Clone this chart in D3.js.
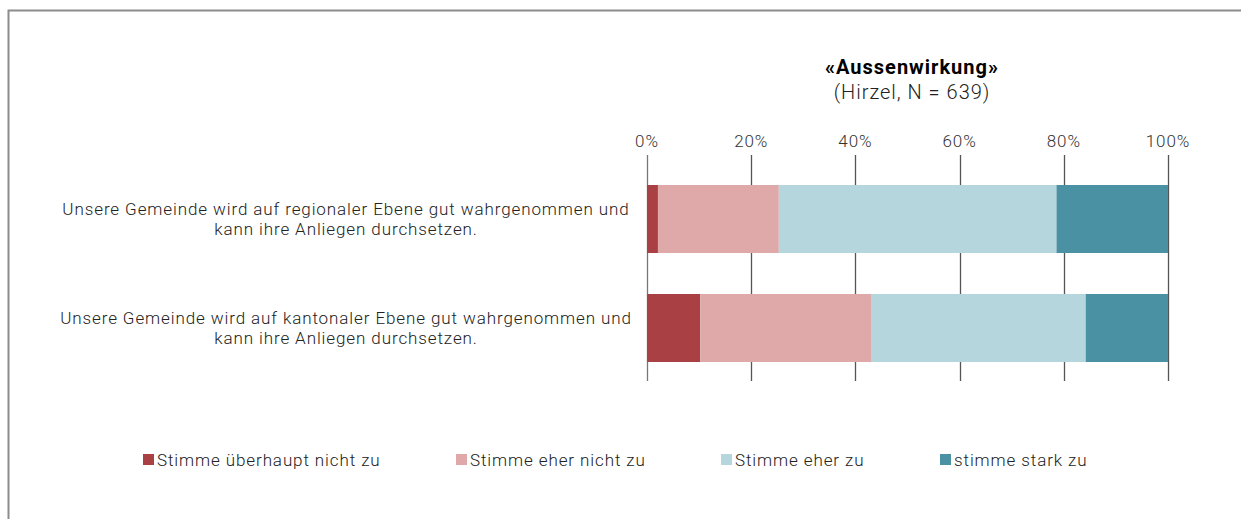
<!DOCTYPE html>
<html>
<head>
<meta charset="utf-8">
<script src="https://cdn.jsdelivr.net/npm/d3@7"></script>
<style>
  body { margin: 0; background: #fff; }
  svg { font-family: Roboto, "Open Sans", sans-serif; }
</style>
</head>
<body>
<div id="chart"></div>
<script>
// categories (two lines each) and shares in percent
let categories = [
    ["Unsere Gemeinde wird auf regionaler Ebene gut wahrgenommen und", "kann ihre Anliegen durchsetzen."],
    ["Unsere Gemeinde wird auf kantonaler Ebene gut wahrgenommen und", "kann ihre Anliegen durchsetzen."]
];
let seriesNames = ["Stimme überhaupt nicht zu", "Stimme eher nicht zu", "Stimme eher zu", "stimme stark zu"];
let seriesColors = ["#a94043", "#dfa9aa", "#b5d6dd", "#4a91a3"];
let values = [
    [2.1, 23.2, 53.3, 21.4],
    [10.2, 32.8, 41.2, 15.8]
];
let tickValues = [0, 20, 40, 60, 80, 100];

let width = 1241, height = 519;

let svg = d3.select("#chart")
    .append("svg")
    .attr("width", width)
    .attr("height", height);

// frame
svg.append("rect")
    .attr("x", 8.5).attr("y", 10.5)
    .attr("width", width + 10).attr("height", height + 10)
    .attr("fill", "none")
    .attr("stroke", "#8c8c8c")
    .attr("stroke-width", 2);

// title
svg.append("text")
    .attr("x", 912).attr("y", 74)
    .attr("text-anchor", "middle")
    .style("font-size", "20px").style("font-weight", "bold")
    .style("letter-spacing", "1px")
    .attr("fill", "#000")
    .text("«Aussenwirkung»");
svg.append("text")
    .attr("x", 912).attr("y", 99)
    .attr("text-anchor", "middle")
    .style("font-size", "20px").style("font-weight", 300)
    .style("letter-spacing", "1px")
    .attr("fill", "#222")
    .text("(Hirzel, N = 639)");

let x = d3.scaleLinear().domain([0, 100]).range([647, 1168]);
let y = d3.scaleBand()
    .domain(d3.range(categories.length))
    .range([185, 362])
    .paddingInner(0.376)
    .paddingOuter(0);

// grid lines
svg.append("g")
    .selectAll("line")
    .data(tickValues)
    .enter()
    .append("line")
    .attr("x1", d => Math.round(x(d)) + 0.5)
    .attr("x2", d => Math.round(x(d)) + 0.5)
    .attr("y1", 155).attr("y2", 381)
    .attr("stroke", d => d == 0 ? "#777" : "#555")
    .attr("stroke-width", 1.3);

// tick labels
svg.append("g")
    .selectAll("text")
    .data(tickValues)
    .enter()
    .append("text")
    .attr("x", d => x(d))
    .attr("y", 147)
    .attr("text-anchor", "middle")
    .style("font-size", "17px").style("font-weight", 300)
    .style("letter-spacing", "0.9px")
    .attr("fill", "#333")
    .text(d => d + "%");

// stacked bars
let stacked = values.map(function (row, i) {
    let acc = 0;
    return row.map(function (v, j) {
        let seg = { row: i, series: j, x0: acc, x1: acc + v };
        acc += v;
        return seg;
    });
});

svg.append("g")
    .selectAll("g")
    .data(stacked)
    .enter()
    .append("g")
    .selectAll("rect")
    .data(d => d)
    .enter()
    .append("rect")
    .attr("x", d => x(d.x0))
    .attr("width", d => x(d.x1) - x(d.x0))
    .attr("y", d => y(d.row))
    .attr("height", y.bandwidth())
    .attr("fill", d => seriesColors[d.series]);

// category labels
let catLabels = svg.append("g")
    .selectAll("text")
    .data(categories)
    .enter()
    .append("text")
    .attr("text-anchor", "middle")
    .style("font-size", "17px").style("font-weight", 300)
    .style("letter-spacing", "0.9px")
    .attr("fill", "#222");
catLabels.each(function (d, i) {
    let t = d3.select(this);
    let cy = y(i) + y.bandwidth() / 2;
    d.forEach(function (line, k) {
        t.append("tspan")
            .attr("x", 346)
            .attr("y", cy - 10 + k * 20 + 6)
            .text(line);
    });
});

// legend
let legendX = [143, 456, 721, 940];
let legend = svg.append("g")
    .selectAll("g")
    .data(seriesNames)
    .enter()
    .append("g")
    .attr("transform", (d, i) => "translate(" + legendX[i] + ",454)");
legend.append("rect")
    .attr("width", 11).attr("height", 11)
    .attr("fill", (d, i) => seriesColors[i]);
legend.append("text")
    .attr("x", 14).attr("y", 12)
    .style("font-size", "17px").style("font-weight", 300)
    .style("letter-spacing", "0.9px")
    .attr("fill", "#222")
    .text(d => d);
</script>
</body>
</html>
